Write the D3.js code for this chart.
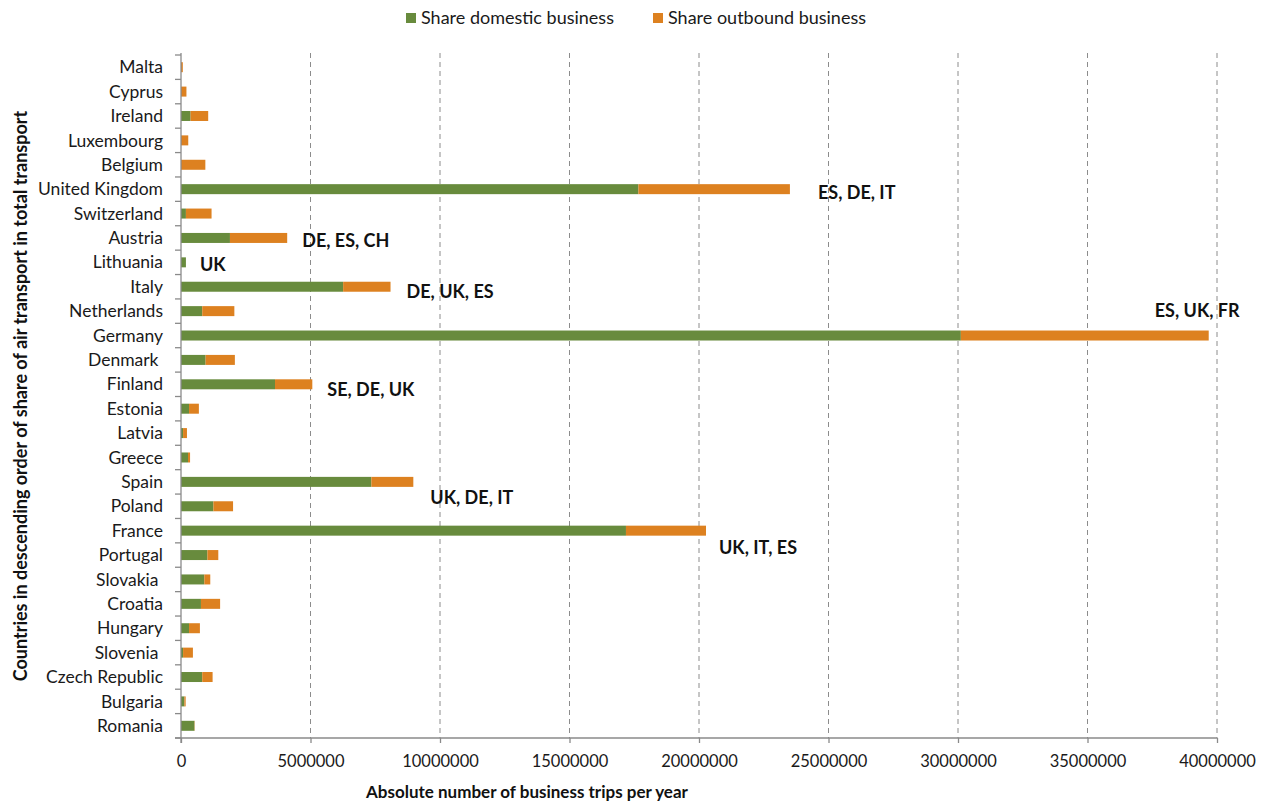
<!DOCTYPE html>
<html>
<head>
<meta charset="utf-8">
<script src="https://cdn.jsdelivr.net/npm/d3@7"></script>
<style>
  html, body { margin: 0; padding: 0; background: #fff; }
  svg { display: block; font-family: Lato, "Open Sans", sans-serif; }
</style>
</head>
<body>
<svg id="chart" width="1269" height="803"></svg>
<script>
// Countries in descending order of air-transport share (top to bottom)
const countries = [
  "Malta", "Cyprus", "Ireland", "Luxembourg", "Belgium", "United Kingdom",
  "Switzerland", "Austria", "Lithuania", "Italy", "Netherlands", "Germany",
  "Denmark\u00a0", "Finland", "Estonia", "Latvia", "Greece", "Spain", "Poland",
  "France", "Portugal", "Slovakia\u00a0", "Croatia", "Hungary", "Slovenia\u00a0",
  "Czech Republic", "Bulgaria", "Romania"
];

// Business trips per year
const domestic = [
  0, 0, 370000, 0, 0, 17660000,
  190000, 1890000, 190000, 6260000, 820000, 30110000,
  950000, 3630000, 310000, 80000, 270000, 7350000, 1250000,
  17180000, 1020000, 900000, 770000, 310000, 80000,
  820000, 130000, 520000
];
const outbound = [
  70000, 210000, 680000, 280000, 940000, 5850000,
  990000, 2210000, 0, 1830000, 1240000, 9570000,
  1130000, 1440000, 380000, 150000, 80000, 1620000, 760000,
  3090000, 420000, 230000, 740000, 420000, 380000,
  400000, 50000, 10000
];

// Main destination countries noted next to selected bars
const noteCountries = ["United Kingdom", "Austria", "Lithuania", "Italy", "Germany", "Finland", "Spain", "France"];
const noteTexts = ["ES, DE, IT", "DE, ES, CH", "UK", "DE, UK, ES", "ES, UK, FR", "SE, DE, UK", "UK, DE, IT", "UK, IT, ES"];

const xTicks = [0, 5000000, 10000000, 15000000, 20000000, 25000000, 30000000, 35000000, 40000000];
const seriesNames = ["Share domestic business", "Share outbound business"];
const seriesColors = ["#688b3d", "#dd8120"];

// Layout
const plot = { left: 181, right: 1217, top: 55, bottom: 738 };
// Note placement relative to the bar end (px)
const noteOffsets = [[28, 4], [15, 3], [14, 2], [16, 5], [-54, -25], [15, 5], [17, 16], [13, 17]];

const svg = d3.select("#chart");

const x = d3.scaleLinear().domain([0, 40000000]).range([plot.left, plot.right]);
const yStep = (plot.bottom - plot.top) / countries.length;
const yc = d => plot.top + (countries.indexOf(d) + 0.5) * yStep;
const barH = 10;

// Dashed vertical gridlines
svg.append("g").selectAll("line")
  .data(xTicks.filter(t => t > 0))
  .join("line")
  .attr("x1", d => x(d)).attr("x2", d => x(d))
  .attr("y1", plot.top - 2).attr("y2", plot.bottom)
  .attr("stroke", "#8c8c8c").attr("stroke-width", 1)
  .attr("stroke-dasharray", "5,4");

// Stacked bars
const stackData = countries.map((c, i) => ({ country: c, domestic: domestic[i], outbound: outbound[i] }));
const stack = d3.stack().keys(["domestic", "outbound"])(stackData);

svg.append("g").selectAll("g")
  .data(stack)
  .join("g")
  .attr("fill", (d, i) => seriesColors[i])
  .selectAll("rect")
  .data(d => d)
  .join("rect")
  .attr("x", d => x(d[0]))
  .attr("y", d => yc(d.data.country) - barH / 2)
  .attr("width", d => Math.max(0, x(d[1]) - x(d[0])))
  .attr("height", barH);

// Y axis (line + ticks between categories)
const yAxisG = svg.append("g").attr("stroke", "#8a8a8a").attr("stroke-width", 1.3);
yAxisG.append("line")
  .attr("x1", plot.left).attr("x2", plot.left)
  .attr("y1", plot.top - 2).attr("y2", plot.bottom + 5);
yAxisG.selectAll("line.tk")
  .data(d3.range(countries.length + 1))
  .join("line").attr("class", "tk")
  .attr("x1", plot.left - 6).attr("x2", plot.left)
  .attr("y1", i => plot.top + i * yStep).attr("y2", i => plot.top + i * yStep);

// X axis
const xAxis = d3.axisBottom(x).tickValues(xTicks).tickFormat(d3.format("d")).tickSize(5).tickPadding(12);
const xg = svg.append("g").attr("transform", `translate(0,${plot.bottom})`).call(xAxis);
xg.select(".domain").attr("stroke", "#8a8a8a").attr("stroke-width", 1.3)
  .attr("d", `M${plot.left - 6},0H${plot.right}`);
xg.selectAll(".tick line").attr("stroke", "#8a8a8a").attr("stroke-width", 1.3);
xg.selectAll(".tick text").attr("font-size", 16.5).attr("fill", "#1a1a1a").attr("font-family", "Lato, sans-serif");

// Category labels
svg.append("g").selectAll("text")
  .data(countries)
  .join("text")
  .attr("x", plot.left - 18)
  .attr("y", d => yc(d))
  .attr("dy", "0.35em")
  .attr("text-anchor", "end")
  .attr("font-size", 17.5)
  .attr("fill", "#1a1a1a")
  .style("white-space", "pre")
  .text(d => d);

// Notes with main destinations
svg.append("g").selectAll("text")
  .data(noteCountries.map((c, i) => ({ c, t: noteTexts[i], o: noteOffsets[i] })))
  .join("text")
  .attr("x", d => {
    const i = countries.indexOf(d.c);
    return x(domestic[i] + outbound[i]) + d.o[0];
  })
  .attr("y", d => yc(d.c) + d.o[1])
  .attr("dy", "0.35em")
  .attr("font-size", 18)
  .attr("font-weight", "bold")
  .attr("fill", "#111")
  .text(d => d.t);

// Axis titles
svg.append("text")
  .attr("x", 527).attr("y", 798)
  .attr("text-anchor", "middle")
  .attr("font-size", 17).attr("font-weight", "bold").attr("fill", "#111")
  .text("Absolute number of business trips per year");

svg.append("text")
  .attr("transform", "translate(27,396) rotate(-90)")
  .attr("text-anchor", "middle")
  .attr("font-size", 18).attr("font-weight", "bold").attr("fill", "#111")
  .text("Countries in descending order of share of air transport in total transport");

// Legend
const legendX = [406, 653];
const lg = svg.append("g").selectAll("g")
  .data(seriesNames)
  .join("g")
  .attr("transform", (d, i) => `translate(${legendX[i]},18)`);
lg.append("rect").attr("x", 0).attr("y", -5).attr("width", 10).attr("height", 10)
  .attr("fill", (d, i) => seriesColors[i]);
lg.append("text").attr("x", 15).attr("y", 0).attr("dy", "0.35em")
  .attr("font-size", 18).attr("fill", "#1a1a1a")
  .text(d => d);
</script>
</body>
</html>
